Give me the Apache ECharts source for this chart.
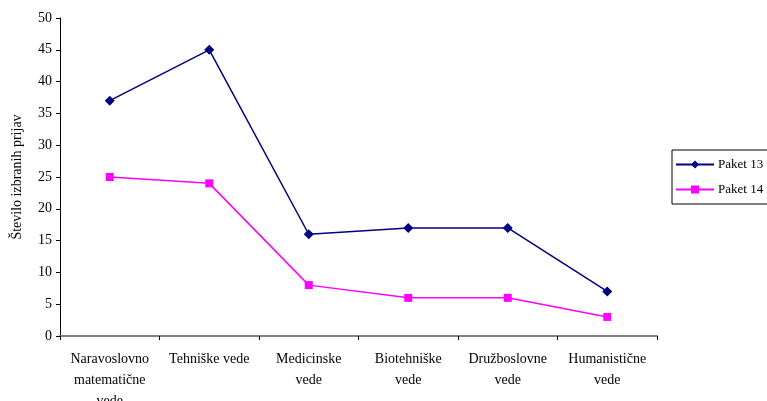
<!DOCTYPE html>
<html>
<head>
<meta charset="utf-8">
<style>
  html, body { margin: 0; padding: 0; background: #fff; }
  #chart { width: 767px; height: 401px; }
</style>
<script src="https://cdn.jsdelivr.net/npm/echarts@6/dist/echarts.min.js"></script>
</head>
<body>
<div id="chart"></div>
<script>
// Število izbranih prijav po področjih
const categories = [
  'Naravoslovno\nmatematične\nvede',
  'Tehniške vede',
  'Medicinske\nvede',
  'Biotehniške\nvede',
  'Družboslovne\nvede',
  'Humanistične\nvede'
];
const paket13 = [37, 45, 16, 17, 17, 7];
const paket14 = [25, 24, 8, 6, 6, 3];
const yTicks = { min: 0, max: 50, interval: 5 };

const font = '"Liberation Serif", "DejaVu Serif", serif';
const chart = echarts.init(document.getElementById('chart'));

chart.setOption({
  animation: false,
  textStyle: { fontFamily: font },
  grid: {
    left: 60, right: 110, top: 18, bottom: 65,
    containLabel: false,
    outerBoundsMode: 'none'
  },
  legend: {
    orient: 'vertical',
    left: 672,
    top: 150,
    padding: [8, 8, 8, 3],
    itemGap: 12,
    itemWidth: 38,
    itemHeight: 10,
    borderColor: '#000',
    borderWidth: 1,
    borderRadius: 0,
    textStyle: { fontFamily: font, fontSize: 13, color: '#000', padding: [0, 0, 0, -1] },
    data: ['Paket 13', 'Paket 14']
  },
  xAxis: {
    type: 'category',
    data: categories,
    boundaryGap: true,
    axisLine: { lineStyle: { color: '#808080', width: 2 } },
    axisTick: { show: true, length: 4, lineStyle: { color: '#000' } },
    axisLabel: {
      interval: 0,
      margin: 13,
      fontFamily: font,
      fontSize: 14,
      color: '#000',
      lineHeight: 21
    }
  },
  yAxis: {
    type: 'value',
    min: yTicks.min,
    max: yTicks.max,
    interval: yTicks.interval,
    name: 'Število izbranih prijav',
    nameLocation: 'middle',
    nameGap: 36,
    nameTextStyle: { fontFamily: font, fontSize: 14, color: '#000' },
    axisLine: { show: true, lineStyle: { color: '#000', width: 1 } },
    axisTick: { show: true, length: 4, lineStyle: { color: '#000' } },
    axisLabel: { fontFamily: font, fontSize: 14, color: '#000', margin: 8 },
    splitLine: { show: false }
  },
  series: [
    {
      name: 'Paket 13',
      type: 'line',
      data: paket13,
      symbol: 'diamond',
      symbolSize: 10,
      color: '#000080',
      lineStyle: { color: '#000080', width: 1.5 },
      itemStyle: { color: '#000080' }
    },
    {
      name: 'Paket 14',
      type: 'line',
      data: paket14,
      symbol: 'rect',
      symbolSize: 8,
      color: '#FF00FF',
      lineStyle: { color: '#FF00FF', width: 1.5 },
      itemStyle: { color: '#FF00FF' }
    }
  ]
});
</script>
</body>
</html>
